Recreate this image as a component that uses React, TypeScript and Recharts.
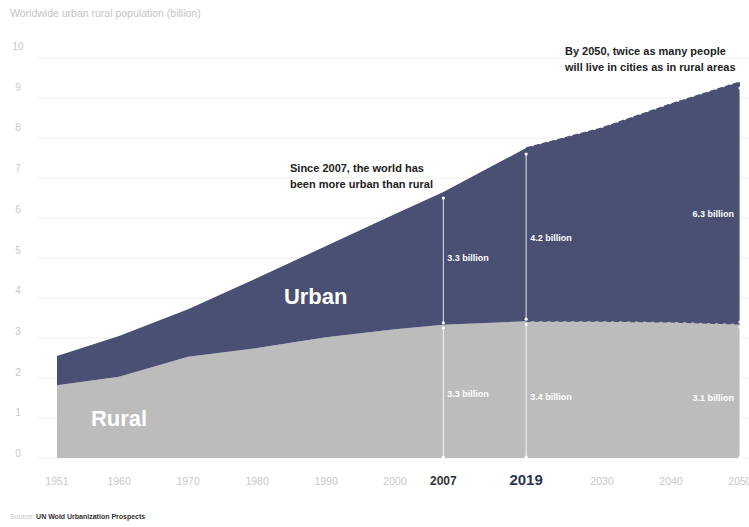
import React from 'react';
import {
  ComposedChart,
  Area,
  Line,
  XAxis,
  YAxis,
  CartesianGrid,
  ReferenceLine,
  ReferenceDot
} from 'recharts';

// Values (billion people)
const years = [1951, 1960, 1970, 1980, 1990, 2000, 2007, 2019, 2030, 2040, 2050];
const rural = [1.82, 2.03, 2.53, 2.75, 3.02, 3.22, 3.33, 3.42, 3.42, 3.4, 3.35];
const urban = [0.73, 1.02, 1.19, 1.75, 2.28, 2.88, 3.32, 4.33, 4.83, 5.45, 6.05];

const yTicks = [0, 1, 2, 3, 4, 5, 6, 7, 8, 9, 10];
const markerYears = [2007, 2019, 2050];
const urbanLabels = ['3.3 billion', '4.2 billion', '6.3 billion'];
const ruralLabels = ['3.3 billion', '3.4 billion', '3.1 billion'];
const PROJECTION_START = 2019;

const URBAN = '#4a4f74';
const RURAL = '#bcbcbc';
const FONT = '"Liberation Sans", Arial, sans-serif';

const data = years.map((year, i) => ({
  year,
  rural: rural[i],
  urban: urban[i],
  ruralProj: year >= PROJECTION_START ? rural[i] : null,
  totalProj: year >= PROJECTION_START ? rural[i] + urban[i] : null
}));

const XTick = ({ x, y, payload }: any) => {
  const v = payload.value;
  const big = v === 2019;
  const strong = v === 2007 || big;
  return (
    <text
      x={x}
      y={y + 19}
      textAnchor="middle"
      fontFamily={FONT}
      fontSize={big ? 15 : strong ? 12 : 10.5}
      fontWeight={strong ? 700 : 400}
      fill={big ? '#2e3350' : strong ? '#333' : '#c8c8c8'}
    >
      {v}
    </text>
  );
};

const YTick = ({ y, payload }: any) => (
  <text
    x={18}
    y={y - 5 - payload.value * 0.7}
    dy={4}
    textAnchor="middle"
    fontFamily={FONT}
    fontSize={10}
    fill="#c8c8c8"
  >
    {payload.value}
  </text>
);

const valueLabel = (text: string, anchor: 'start' | 'end') => (props: any) => {
  const { x, y } = props.viewBox;
  return (
    <text
      x={anchor === 'start' ? x + 4 : x - 6}
      y={y}
      dy={3}
      textAnchor={anchor}
      fontFamily={FONT}
      fontSize={9}
      fontWeight={700}
      fill="#fff"
    >
      {text}
    </text>
  );
};

const bigLabel = (text: string) => (props: any) => {
  const { x, y } = props.viewBox;
  return (
    <text x={x} y={y} dy={8} textAnchor="middle" fontFamily={FONT} fontSize={22} fontWeight={700} fill="#fff">
      {text}
    </text>
  );
};

export default function App() {
  return (
    <div style={{ position: 'absolute', left: 0, top: 0, width: 749, height: 527, background: '#fff', fontFamily: FONT }}>
      <div style={{ position: 'absolute', left: 10, top: 7, fontSize: 10.5, color: '#c4c4c4' }}>
        Worldwide urban rural population (billion)
      </div>

      <ComposedChart width={749} height={527} data={data} margin={{ top: 58, right: 0, bottom: 39, left: 0 }}>
        <CartesianGrid horizontal vertical={false} stroke="#f0f0f0" />
        <XAxis
          dataKey="year"
          type="number"
          domain={[1951, 2050]}
          allowDataOverflow
          ticks={years}
          interval={0}
          axisLine={false}
          tickLine={false}
          padding={{ left: 19, right: 9 }}
          tick={<XTick />}
          height={30}
        />
        <YAxis
          type="number"
          domain={[0, 10]}
          allowDataOverflow
          ticks={yTicks}
          interval={0}
          axisLine={false}
          tickLine={false}
          width={38}
          tick={<YTick />}
        />
        <Area
          type="linear"
          dataKey="rural"
          stackId="a"
          fill={RURAL}
          fillOpacity={1}
          stroke="none"
          isAnimationActive={false}
        />
        <Area
          type="linear"
          dataKey="urban"
          stackId="a"
          fill={URBAN}
          fillOpacity={1}
          stroke="none"
          isAnimationActive={false}
        />
        {/* projected part drawn with a dashed edge */}
        <Line
          type="linear"
          dataKey="ruralProj"
          stroke={URBAN}
          strokeWidth={1.2}
          strokeDasharray="5 3"
          dot={false}
          activeDot={false}
          isAnimationActive={false}
        />
        <Line
          type="linear"
          dataKey="totalProj"
          stroke={URBAN}
          strokeWidth={1.4}
          strokeDasharray="6 2"
          dot={false}
          activeDot={false}
          isAnimationActive={false}
        />

        {markerYears.map((yr) => {
          const i = years.indexOf(yr);
          const r = rural[i];
          const total = r + urban[i];
          const segs = [
            [r + 0.05, total - 0.15],
            [0.02, r - 0.08]
          ];
          return segs.map(([a, b], s) => (
            <React.Fragment key={`${yr}-${s}`}>
              <ReferenceLine
                segment={[{ x: yr, y: a }, { x: yr, y: b }]}
                stroke="#fff"
                strokeOpacity={0.85}
                strokeWidth={1}
              />
              <ReferenceDot x={yr} y={a} r={1.6} fill="#fff" stroke="none" />
              <ReferenceDot x={yr} y={b} r={1.6} fill="#fff" stroke="none" />
            </React.Fragment>
          ));
        })}

        {markerYears.map((yr, k) => (
          <ReferenceDot
            key={`ul-${yr}`}
            x={yr}
            y={[5.0, 5.5, 6.1][k]}
            r={0}
            fill="none"
            stroke="none"
            label={valueLabel(urbanLabels[k], k === 2 ? 'end' : 'start')}
          />
        ))}
        {markerYears.map((yr, k) => (
          <ReferenceDot
            key={`rl-${yr}`}
            x={yr}
            y={[1.6, 1.52, 1.5][k]}
            r={0}
            fill="none"
            stroke="none"
            label={valueLabel(ruralLabels[k], k === 2 ? 'end' : 'start')}
          />
        ))}

        <ReferenceDot x={1988.5} y={4.05} r={0} fill="none" stroke="none" label={bigLabel('Urban')} />
        <ReferenceDot x={1960} y={1.0} r={0} fill="none" stroke="none" label={bigLabel('Rural')} />
      </ComposedChart>

      <div style={{ position: 'absolute', left: 290, top: 160, fontSize: 11, fontWeight: 700, color: '#222', lineHeight: '16px' }}>
        Since 2007, the world has
        <br />
        been more urban than rural
      </div>
      <div style={{ position: 'absolute', left: 565, top: 43, fontSize: 11, fontWeight: 700, color: '#222', lineHeight: '16px' }}>
        By 2050, twice as many people
        <br />
        will live in cities as in rural areas
      </div>

      <div style={{ position: 'absolute', left: 10, top: 513, fontSize: 7, color: '#c4c4c4' }}>
        Source: <span style={{ color: '#333', fontWeight: 700 }}>UN Wold Urbanization Prospects</span>
      </div>
    </div>
  );
}
